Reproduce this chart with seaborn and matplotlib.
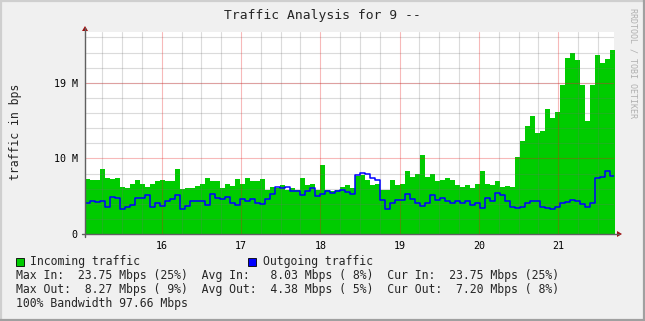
import numpy as np
import pandas as pd
import seaborn as sns
import matplotlib
matplotlib.use("Agg")
import matplotlib.pyplot as plt
from matplotlib.patches import Rectangle, Polygon
from matplotlib.lines import Line2D

# ---------------- data (Mbps, one sample every ~1.5 h) ----------------
incoming = [7.1, 7.0, 7.0, 8.4, 7.2, 7.1, 7.2, 6.1, 6.0, 6.5, 7.0, 6.5, 6.1, 6.5, 6.9, 7.0, 6.9, 6.8,
            8.4, 5.8, 5.9, 5.9, 6.2, 6.5, 7.3, 6.9, 6.8, 6.0, 6.5, 6.2, 7.1, 6.5, 7.2, 6.9, 6.8, 7.1,
            5.7, 6.1, 5.9, 6.3, 5.7, 5.9, 5.7, 7.2, 6.3, 6.5, 5.7, 8.9, 5.7, 5.5, 5.7, 6.1, 6.3, 5.9,
            7.5, 7.6, 7.0, 6.3, 6.5, 5.7, 5.7, 7.0, 6.3, 6.5, 8.2, 7.4, 7.8, 10.2, 7.4, 7.8, 6.8, 7.0,
            7.2, 7.0, 6.3, 6.1, 6.3, 5.9, 6.5, 8.1, 6.5, 6.3, 6.8, 6.1, 6.2, 6.1, 10.0, 12.0, 14.0,
            15.3, 13.0, 13.3, 16.2, 15.0, 15.8, 19.3, 22.7, 23.4, 22.5, 19.3, 14.6, 19.3, 23.1, 22.1,
            22.6, 23.75]
outgoing = [4.0, 4.2, 4.1, 4.3, 3.5, 4.8, 4.7, 3.2, 3.5, 3.8, 4.6, 4.6, 5.0, 3.5, 4.0, 3.6, 4.2, 4.5,
            5.1, 3.2, 3.6, 4.2, 4.2, 4.2, 3.8, 5.2, 4.6, 4.5, 4.8, 4.0, 3.8, 4.5, 4.2, 4.5, 4.0, 3.9,
            4.5, 5.2, 6.1, 6.0, 6.1, 5.6, 5.5, 5.0, 5.5, 5.9, 4.9, 5.2, 5.6, 5.3, 5.5, 5.7, 5.4, 5.2,
            7.6, 7.9, 7.7, 7.2, 7.0, 4.4, 3.2, 4.0, 4.4, 4.4, 5.2, 4.5, 4.0, 3.6, 4.0, 5.0, 4.4, 4.6,
            4.2, 4.0, 4.3, 4.0, 4.2, 3.75, 4.0, 3.3, 4.6, 4.2, 5.3, 5.0, 4.2, 3.5, 3.3, 3.5, 4.0,
            4.2, 4.3, 3.5, 3.3, 3.2, 3.5, 4.0, 4.1, 4.4, 4.2, 3.9, 3.5, 4.0, 7.2, 7.4, 8.2, 7.5]
start_day = 15.033
sample_days = 0.0631
day_ticks = [16, 17, 18, 19, 20, 21]
y_major = [0, 9.766, 19.53]
y_major_labels = ["0", "10 M", "19 M"]
title = "Traffic Analysis for 9 --"
ylabel = "traffic in bps"
legend_names = ["Incoming traffic", "Outgoing traffic"]
stat_lines = [
    "Max In:  23.75 Mbps (25%)  Avg In:   8.03 Mbps ( 8%)  Cur In:  23.75 Mbps (25%)",
    "Max Out:  8.27 Mbps ( 9%)  Avg Out:  4.38 Mbps ( 5%)  Cur Out:  7.20 Mbps ( 8%)",
    "100% Bandwidth 97.66 Mbps",
]
side_text = "RRDTOOL / TOBI OETIKER"

# ---------------- figure ----------------
W, H = 645, 321
MONO = "DejaVu Sans Mono"
GREEN = "#00CC00"
BLUE = "#0000FF"

sns.set_style("white")
plt.rcParams["font.family"] = [MONO]

fig = plt.figure(figsize=(W / 100, H / 100), dpi=100, facecolor="#F0F0F0")

def fx(x):
    return x / W

def fy(y):
    return 1 - y / H

L, R, T, B = 85, 614, 32, 234
ax = fig.add_axes([fx(L), fy(B), (R - L) / W, (B - T) / H])
ax.set_facecolor("white")

n = len(incoming)
t = start_day + sample_days * np.arange(n + 1)
df = pd.DataFrame({
    "t": t,
    "in": incoming + [incoming[-1]],
    "out": outgoing + [outgoing[-1]],
})

ax.fill_between(df["t"], df["in"], step="post", color=GREEN, lw=0, zorder=1)
sns.lineplot(data=df, x="t", y="out", ax=ax, color=BLUE, lw=1.1,
             drawstyle="steps-post", estimator=None, zorder=3)

x0 = start_day
x1 = start_day + (R - L) / 79.3
ax.set_xlim(x0, x1)
ymax = 26.1
ax.set_ylim(0, ymax)

# grid (drawn over the area, like rrdtool)
minor_y = np.arange(1, 14) * (y_major[1] / 5)
for yv in minor_y:
    if not any(abs(yv - m) < 1e-3 for m in y_major):
        ax.axhline(yv, color=(0.45, 0.45, 0.45, 0.25), lw=0.8, zorder=2)
minor_x = np.arange(np.ceil(x0 * 4) / 4, x1, 0.25)
for xv in minor_x:
    if abs(xv - round(xv)) > 1e-6:
        ax.axvline(xv, color=(0.45, 0.45, 0.45, 0.25), lw=0.8, zorder=2)
for yv in y_major[1:]:
    ax.axhline(yv, color=(0.9, 0.1, 0.1, 0.3), lw=0.8, zorder=2)
for xv in day_ticks:
    ax.axvline(xv, color=(0.9, 0.1, 0.1, 0.3), lw=0.8, zorder=2)

for s in ax.spines.values():
    s.set_visible(False)

ax.set_xticks(day_ticks)
ax.set_xticklabels([str(d) for d in day_ticks])
ax.set_xticks([v for v in minor_x if abs(v - round(v)) > 1e-6], minor=True)
ax.set_yticks(y_major)
ax.set_yticklabels(y_major_labels)
ax.set_yticks([v for v in minor_y if not any(abs(v - m) < 1e-3 for m in y_major)], minor=True)
ax.tick_params(axis="both", which="major", length=2.2, width=0.7, color="#E07070",
               labelsize=7.2, pad=2.5, labelcolor="black")
ax.tick_params(axis="both", which="minor", length=2.2, width=0.7, color="#A0A0A0")
ax.tick_params(axis="y", which="major", pad=3.2)
ax.set_xlabel("")
ax.set_ylabel("")

# axis lines with arrows
axis_col = "#606060"
fig.add_artist(Line2D([fx(L), fx(L)], [fy(B + 3), fy(28)], color=axis_col, lw=1.0))
fig.add_artist(Line2D([fx(L - 3), fx(619)], [fy(B), fy(B)], color=axis_col, lw=1.0))
arrow_col = "#A01010"
fig.add_artist(Polygon([[fx(L - 3), fy(31)], [fx(L + 3), fy(31)], [fx(L), fy(26)]],
                       closed=True, color=arrow_col, lw=0))
fig.add_artist(Polygon([[fx(617), fy(B - 3)], [fx(617), fy(B + 3)], [fx(622), fy(B)]],
                       closed=True, color=arrow_col, lw=0))

# texts
fig.text(fx(322), fy(16), title, ha="center", va="center", fontsize=9.4, family=MONO)
fig.text(fx(16), fy(132), ylabel, ha="center", va="center", rotation=90, fontsize=8.3, family=MONO)
fig.text(fx(633), fy(63), side_text, ha="center", va="center", rotation=270,
         fontsize=6.0, family=MONO, color="#B0B0B0")

# legend
for xs, col, name, xt in [(16, GREEN, legend_names[0], 30), (248, BLUE, legend_names[1], 263)]:
    fig.add_artist(Rectangle((fx(xs), fy(266)), 8 / W, 8 / H, facecolor=col,
                             edgecolor="black", lw=0.6, transform=fig.transFigure))
    fig.text(fx(xt), fy(261.5), name, ha="left", va="center", fontsize=8.3, family=MONO)
for i, line in enumerate(stat_lines):
    fig.text(fx(16), fy(275.5 + 14 * i), line, ha="left", va="center", fontsize=8.3, family=MONO)

# frame around the image
fig.add_artist(Line2D([0, 1], [fy(0.8), fy(0.8)], color="#CFCFCF", lw=1.6))
fig.add_artist(Line2D([fx(0.8), fx(0.8)], [0, 1], color="#CFCFCF", lw=1.6))
fig.add_artist(Line2D([0, 1], [fy(320.2), fy(320.2)], color="#A0A0A0", lw=1.6))
fig.add_artist(Line2D([fx(644.2), fx(644.2)], [0, 1], color="#A0A0A0", lw=1.6))

fig.savefig("out.png", dpi=100, facecolor=fig.get_facecolor())
